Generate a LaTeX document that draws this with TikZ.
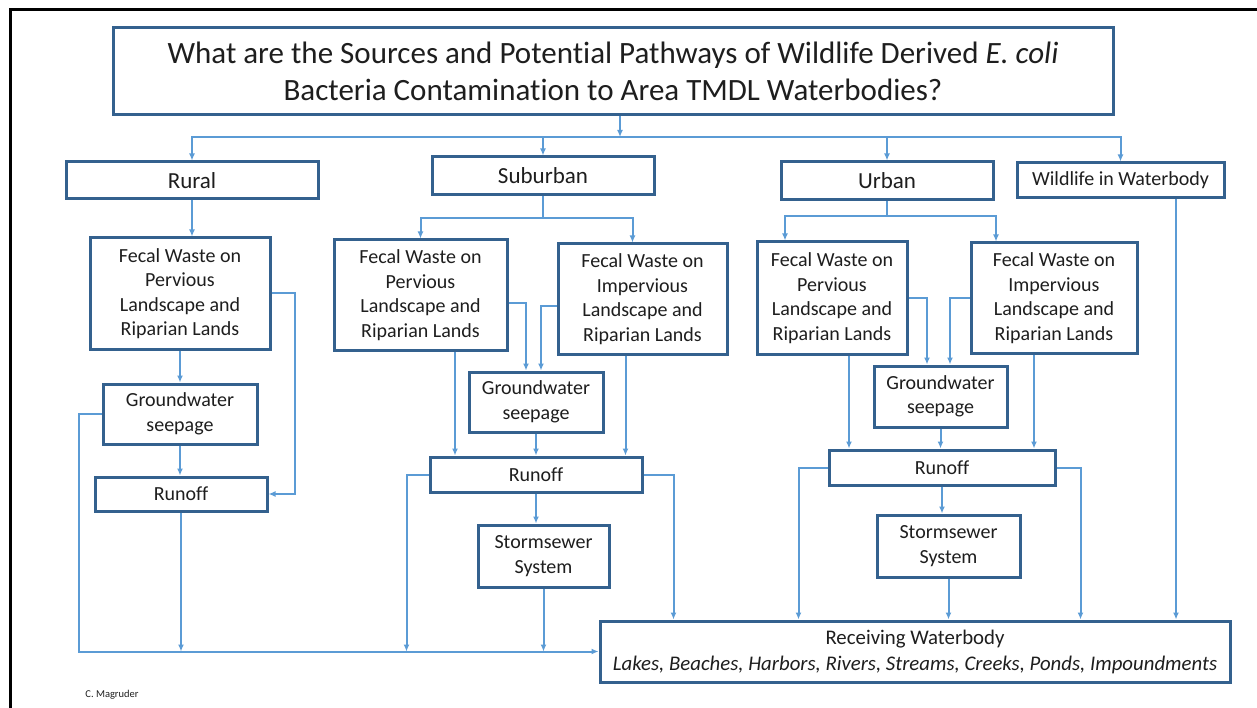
\documentclass[tikz,border=0pt]{standalone}
\usepackage{fontspec}
\setmainfont{Carlito}[Ligatures=NoCommon]
\usepackage{tikz}
\usetikzlibrary{arrows.meta}
\definecolor{boxblue}{RGB}{52,97,142}
\definecolor{lineblue}{RGB}{91,155,213}
\definecolor{txt}{RGB}{30,30,30}

\begin{document}
\begin{tikzpicture}[x=1pt,y=-1pt,
  box/.style={draw=boxblue,line width=3pt,fill=white,text=txt,align=center,inner sep=0pt,font=\fontsize{20}{24.5}\selectfont},
  area/.style={box,font=\fontsize{23}{26}\selectfont},
  link/.style={draw=lineblue,line width=2pt},
  arr/.style={link,-{Latex[length=7pt,width=6pt]}}]
\useasboundingbox (0,0) rectangle (1257,708);
\draw[line width=3pt] (10,708) -- (10,10) -- (1257,10); % frame

\node[box,minimum width=1000,minimum height=87,font=\fontsize{31}{37}\selectfont] (title) at (613,71.5)
  {What are the Sources and Potential Pathways of Wildlife Derived \textit{E. coli}\\Bacteria Contamination to Area TMDL Waterbodies?};
\node[area,minimum width=252,minimum height=37] (rural) at (192,180.5) {Rural};
\node[area,minimum width=222,minimum height=38] (suburban) at (543,176) {Suburban};
\node[area,minimum width=212,minimum height=38] (urban) at (887,181) {Urban};
\node[box,minimum width=207,minimum height=35] (wild) at (1120.5,180.5) {Wildlife in Waterbody};

% rural
\node[box,minimum width=180,minimum height=111] (rperv) at (180,293.5) {Fecal Waste on\\Pervious\\Landscape and\\Riparian Lands};
\node[box,minimum width=154,minimum height=60] (rgw) at (180,414) {Groundwater\\seepage};
\node[box,minimum width=172,minimum height=34] (rrun) at (181,494) {Runoff};

% suburban
\node[box,minimum width=173,minimum height=110] (sperv) at (420.5,295) {Fecal Waste on\\Pervious\\Landscape and\\Riparian Lands};
\node[box,minimum width=169,minimum height=110] (simp) at (642.5,299) {Fecal Waste on\\Impervious\\Landscape and\\Riparian Lands};
\node[box,minimum width=134,minimum height=60] (sgw) at (536,402) {Groundwater\\seepage};
\node[box,minimum width=212,minimum height=35] (srun) at (536,474.5) {Runoff};
\node[box,minimum width=131,minimum height=62] (sstorm) at (543.5,556) {Stormsewer\\System};

% urban
\node[box,minimum width=150,minimum height=112] (uperv) at (832,298) {Fecal Waste on\\Pervious\\Landscape and\\Riparian Lands};
\node[box,minimum width=166,minimum height=110] (uimp) at (1054,298) {Fecal Waste on\\Impervious\\Landscape and\\Riparian Lands};
\node[box,minimum width=133,minimum height=61] (ugw) at (940.5,396.5) {Groundwater\\seepage};
\node[box,minimum width=226,minimum height=35] (urun) at (942,467.5) {Runoff};
\node[box,minimum width=143,minimum height=62] (ustorm) at (948.5,546) {Stormsewer\\System};

\node[box,minimum width=630,minimum height=61,font=\fontsize{20.8}{26}\selectfont] (recv) at (915,651.5)
  {Receiving Waterbody\\\textit{Lakes, Beaches, Harbors, Rivers, Streams, Creeks, Ponds, Impoundments}};
\node[text=txt,font=\fontsize{10.5}{12}\selectfont] (author) at (112,695) {C. Magruder};

% top split
\coordinate (split) at (620,137);
\draw[arr] (title.south -| split) -- (split);
\draw[arr] (split) -| (rural.north);
\draw[arr] (split) -| (suburban.north);
\draw[arr] (split) -| (urban.north);
\draw[arr] (split) -| (wild.north);

% rural links
\draw[arr] (rural.south) -- (rural.south |- rperv.north);
\draw[arr] (rperv.south) -- (rgw.north);
\draw[arr] (rgw.south) -- (rgw.south |- rrun.north);
\draw[arr] (rperv.east) -- ++(23,0) |- (rrun.east);
\draw[arr] (rgw.west) -- ++(-23,0) |- (recv.west);
\draw[arr] (rrun.south) -- (rrun.south |- recv.west);

% suburban links
\coordinate (ssplit) at (543,218);
\draw[link] (suburban.south) -- (ssplit);
\draw[arr] (ssplit) -| (sperv.north);
\draw[arr] (ssplit) -| ([xshift=-10pt]simp.north);
\draw[arr] ([yshift=-8pt]sperv.east) -| ([xshift=-10pt]sgw.north);
\draw[arr] ([yshift=-7pt]simp.west) -| ([xshift=5pt]sgw.north);
\draw[arr] ([xshift=-81pt]srun.north |- sperv.south) -- ([xshift=-81pt]srun.north);
\draw[arr] ([xshift=-17pt]simp.south) -- ([xshift=-17pt]simp.south |- srun.north);
\draw[arr] (sgw.south) -- (srun.north);
\draw[arr] (srun.west) -- ++(-22,0) coordinate (sl) -- (sl |- recv.west);
\draw[arr] (srun.east) -- ++(30,0) coordinate (sr) -- (sr |- recv.north);
\draw[arr] (srun.south) -- (srun.south |- sstorm.north);
\draw[arr] (sstorm.south) -- (sstorm.south |- recv.west);

% urban links
\coordinate (usplit) at (887,216);
\draw[link] (urban.south) -- (usplit);
\draw[arr] (usplit) -| ([xshift=-47pt]uperv.north);
\draw[arr] (usplit) -| ([xshift=-58pt]uimp.north);
\draw[arr] (uperv.east) -| ([xshift=-13.5pt]ugw.north);
\draw[arr] (uimp.west) -| ([xshift=9.5pt]ugw.north);
\draw[arr] ([xshift=17pt]uperv.south) -- ([xshift=17pt]uperv.south |- urun.north);
\draw[arr] ([xshift=-20pt]uimp.south) -- ([xshift=-20pt]uimp.south |- urun.north);
\draw[arr] (ugw.south) -- (ugw.south |- urun.north);
\draw[arr] (urun.west) -- ++(-29,0) coordinate (ul) -- (ul |- recv.north);
\draw[arr] (urun.east) -- ++(24,0) coordinate (ur) -- (ur |- recv.north);
\draw[arr] (urun.south) -- (urun.south |- ustorm.north);
\draw[arr] (ustorm.south) -- (ustorm.south |- recv.north);
\draw[arr] ([xshift=55.5pt]wild.south) -- ([xshift=55.5pt]wild.south |- recv.north);
\end{tikzpicture}
\end{document}
